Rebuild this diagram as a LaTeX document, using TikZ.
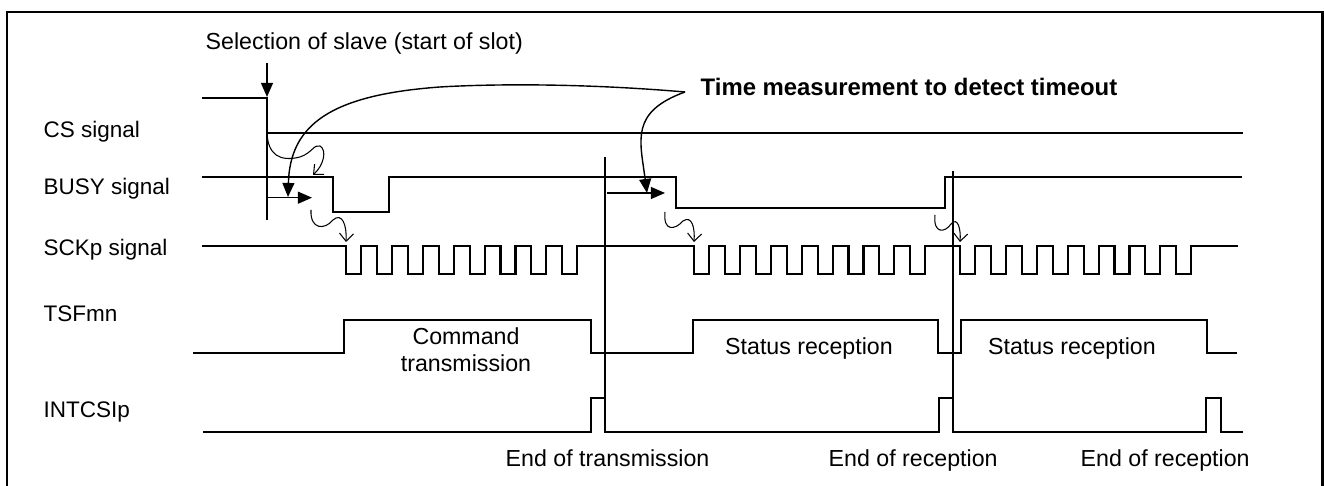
\documentclass[tikz,border=0pt]{standalone}
\usepackage{fontspec}
\setmainfont{Liberation Sans}
\usetikzlibrary{arrows.meta}

\tikzset{
  sig/.style={line width=0.6pt},
  guide/.style={line width=0.3pt},
  note/.style={font=\fontsize{6.6}{7.6}\selectfont, inner sep=0pt},
  lbl/.style={font=\fontsize{6.4}{7.4}\selectfont, inner sep=0pt, anchor=base west},
  meas/.style={line width=0.4pt, -{Triangle[length=4pt,width=3.4pt]}},
  wiggle/.style={line width=0.3pt, -{Straight Barb[length=2.2pt,width=4pt]}}
}

\begin{document}
\begin{tikzpicture}[x=1cm,y=-1cm]
        \useasboundingbox (0,0) rectangle (13.24,4.86);
        \draw[line width=0.75pt] (0.07,4.86) -- (0.07,0.12) -- (13.225,0.12) -- (13.225,4.86);

        % signal names
        \node[lbl] (cs) at (0.43,1.38) {CS signal};
        \node[lbl] (busy) at (0.43,1.95) {BUSY signal};
        \node[lbl] (sck) at (0.43,2.56) {SCKp signal};
        \node[lbl] (tsf) at (0.43,3.22) {TSFmn};
        \node[lbl] (intc) at (0.43,4.18) {INTCSIp};

        % waveforms
        \draw[sig] (2.02,0.98) -- (2.67,0.98) -- (2.67,1.33) -- (12.43,1.33);
        \draw[sig] (2.02,1.77) -- (3.33,1.77) -- (3.33,2.12) -- (3.89,2.12) -- (3.89,1.77)
            -- (6.76,1.77) -- (6.76,2.08) -- (9.45,2.08) -- (9.45,1.77) -- (12.42,1.77);
        \draw[sig] (2.02,2.46)
            foreach \s in {3.46,6.94,9.60} { foreach \k in {0,...,7} {
                -- ({\s+\k*0.309},2.46) -- ++(0,0.28) -- ++(0.15,0) -- ++(0,-0.28) } }
            -- (12.38,2.46);
        \draw[sig] (1.93,3.53) -- (3.44,3.53) -- (3.44,3.20) -- (5.91,3.20) -- (5.91,3.53)
            -- (6.93,3.53) -- (6.93,3.20) -- (9.38,3.20) -- (9.38,3.53) -- (9.61,3.53)
            -- (9.61,3.20) -- (12.07,3.20) -- (12.07,3.53) -- (12.37,3.53);
        \draw[sig] (2.03,4.32) -- (5.91,4.32) -- (5.91,3.98) -- (6.05,3.98) -- (6.05,4.32)
            -- (9.39,4.32) -- (9.39,3.98) -- (9.53,3.98) -- (9.53,4.32) -- (12.06,4.32)
            -- (12.06,3.98) -- (12.21,3.98) -- (12.21,4.32) -- (12.43,4.32);

        % slot start and end marks
        \coordinate (slot) at (2.67,1.33);
        \coordinate (tx) at (6.05,1.57);
        \coordinate (rx) at (9.53,1.71);
        \draw[guide] (slot) -- (2.67,2.20);
        \draw[guide] (tx) -- (6.05,4.30);
        \draw[guide] (rx) -- (9.53,4.30);

        % texts
        \node[note, anchor=base west] (sel) at (2.05,0.50) {Selection of slave (start of slot)};
        \node[note, anchor=base west, font=\fontsize{6.8}{8}\selectfont\bfseries] (time) at (7.00,0.955)
            {Time measurement to detect timeout};
        \node[note, align=center] (cmd) at (4.66,3.50) {Command\\transmission};
        \node[note] (st1) at (8.09,3.49) {Status reception};
        \node[note] (st2) at (10.72,3.49) {Status reception};
        \node[note, anchor=base west] (eot) at (5.05,4.667) {End of transmission};
        \node[note, anchor=base west] (eor1) at (8.28,4.667) {End of reception};
        \node[note, anchor=base west] (eor2) at (10.80,4.667) {End of reception};

        % timeout measurement arrows
        \coordinate (src) at (6.85,0.92);
        \coordinate (t1) at (2.88,1.97);
        \coordinate (t2) at (6.47,1.93);
        \draw[meas] (2.67,0.63) -- (2.67,0.97);
        \draw[meas] (2.67,1.977) -- (3.12,1.977);
        \draw[meas] (6.07,1.93) -- (6.65,1.93);
        \draw[meas] (src) .. controls (5.8,0.83) and (4.9,0.84) .. (4.40,0.87)
            .. controls (3.3,0.95) and (2.9,1.25) .. (t1);
        \draw[meas] (src) .. controls (6.30,1.12) and (6.40,1.40) .. (t2);

        % small handover arrows
        \draw[wiggle] (slot) .. controls (2.68,1.55) and (2.80,1.62) .. (3.00,1.57)
            .. controls (3.12,1.53) and (3.14,1.44) .. (3.20,1.46)
            .. controls (3.27,1.50) and (3.24,1.65) .. (3.13,1.75);
        \draw[wiggle] (3.11,2.10) .. controls (3.10,2.30) and (3.25,2.30) .. (3.33,2.20)
            .. controls (3.42,2.12) and (3.47,2.25) .. (3.46,2.42);
        \draw[wiggle] (6.65,2.12) .. controls (6.63,2.32) and (6.75,2.30) .. (6.83,2.21)
            .. controls (6.92,2.15) and (6.95,2.28) .. (6.94,2.42);
        \draw[wiggle] (9.35,2.15) .. controls (9.33,2.34) and (9.45,2.33) .. (9.51,2.24)
            .. controls (9.58,2.16) and (9.61,2.30) .. (9.60,2.42);
\end{tikzpicture}
\end{document}
